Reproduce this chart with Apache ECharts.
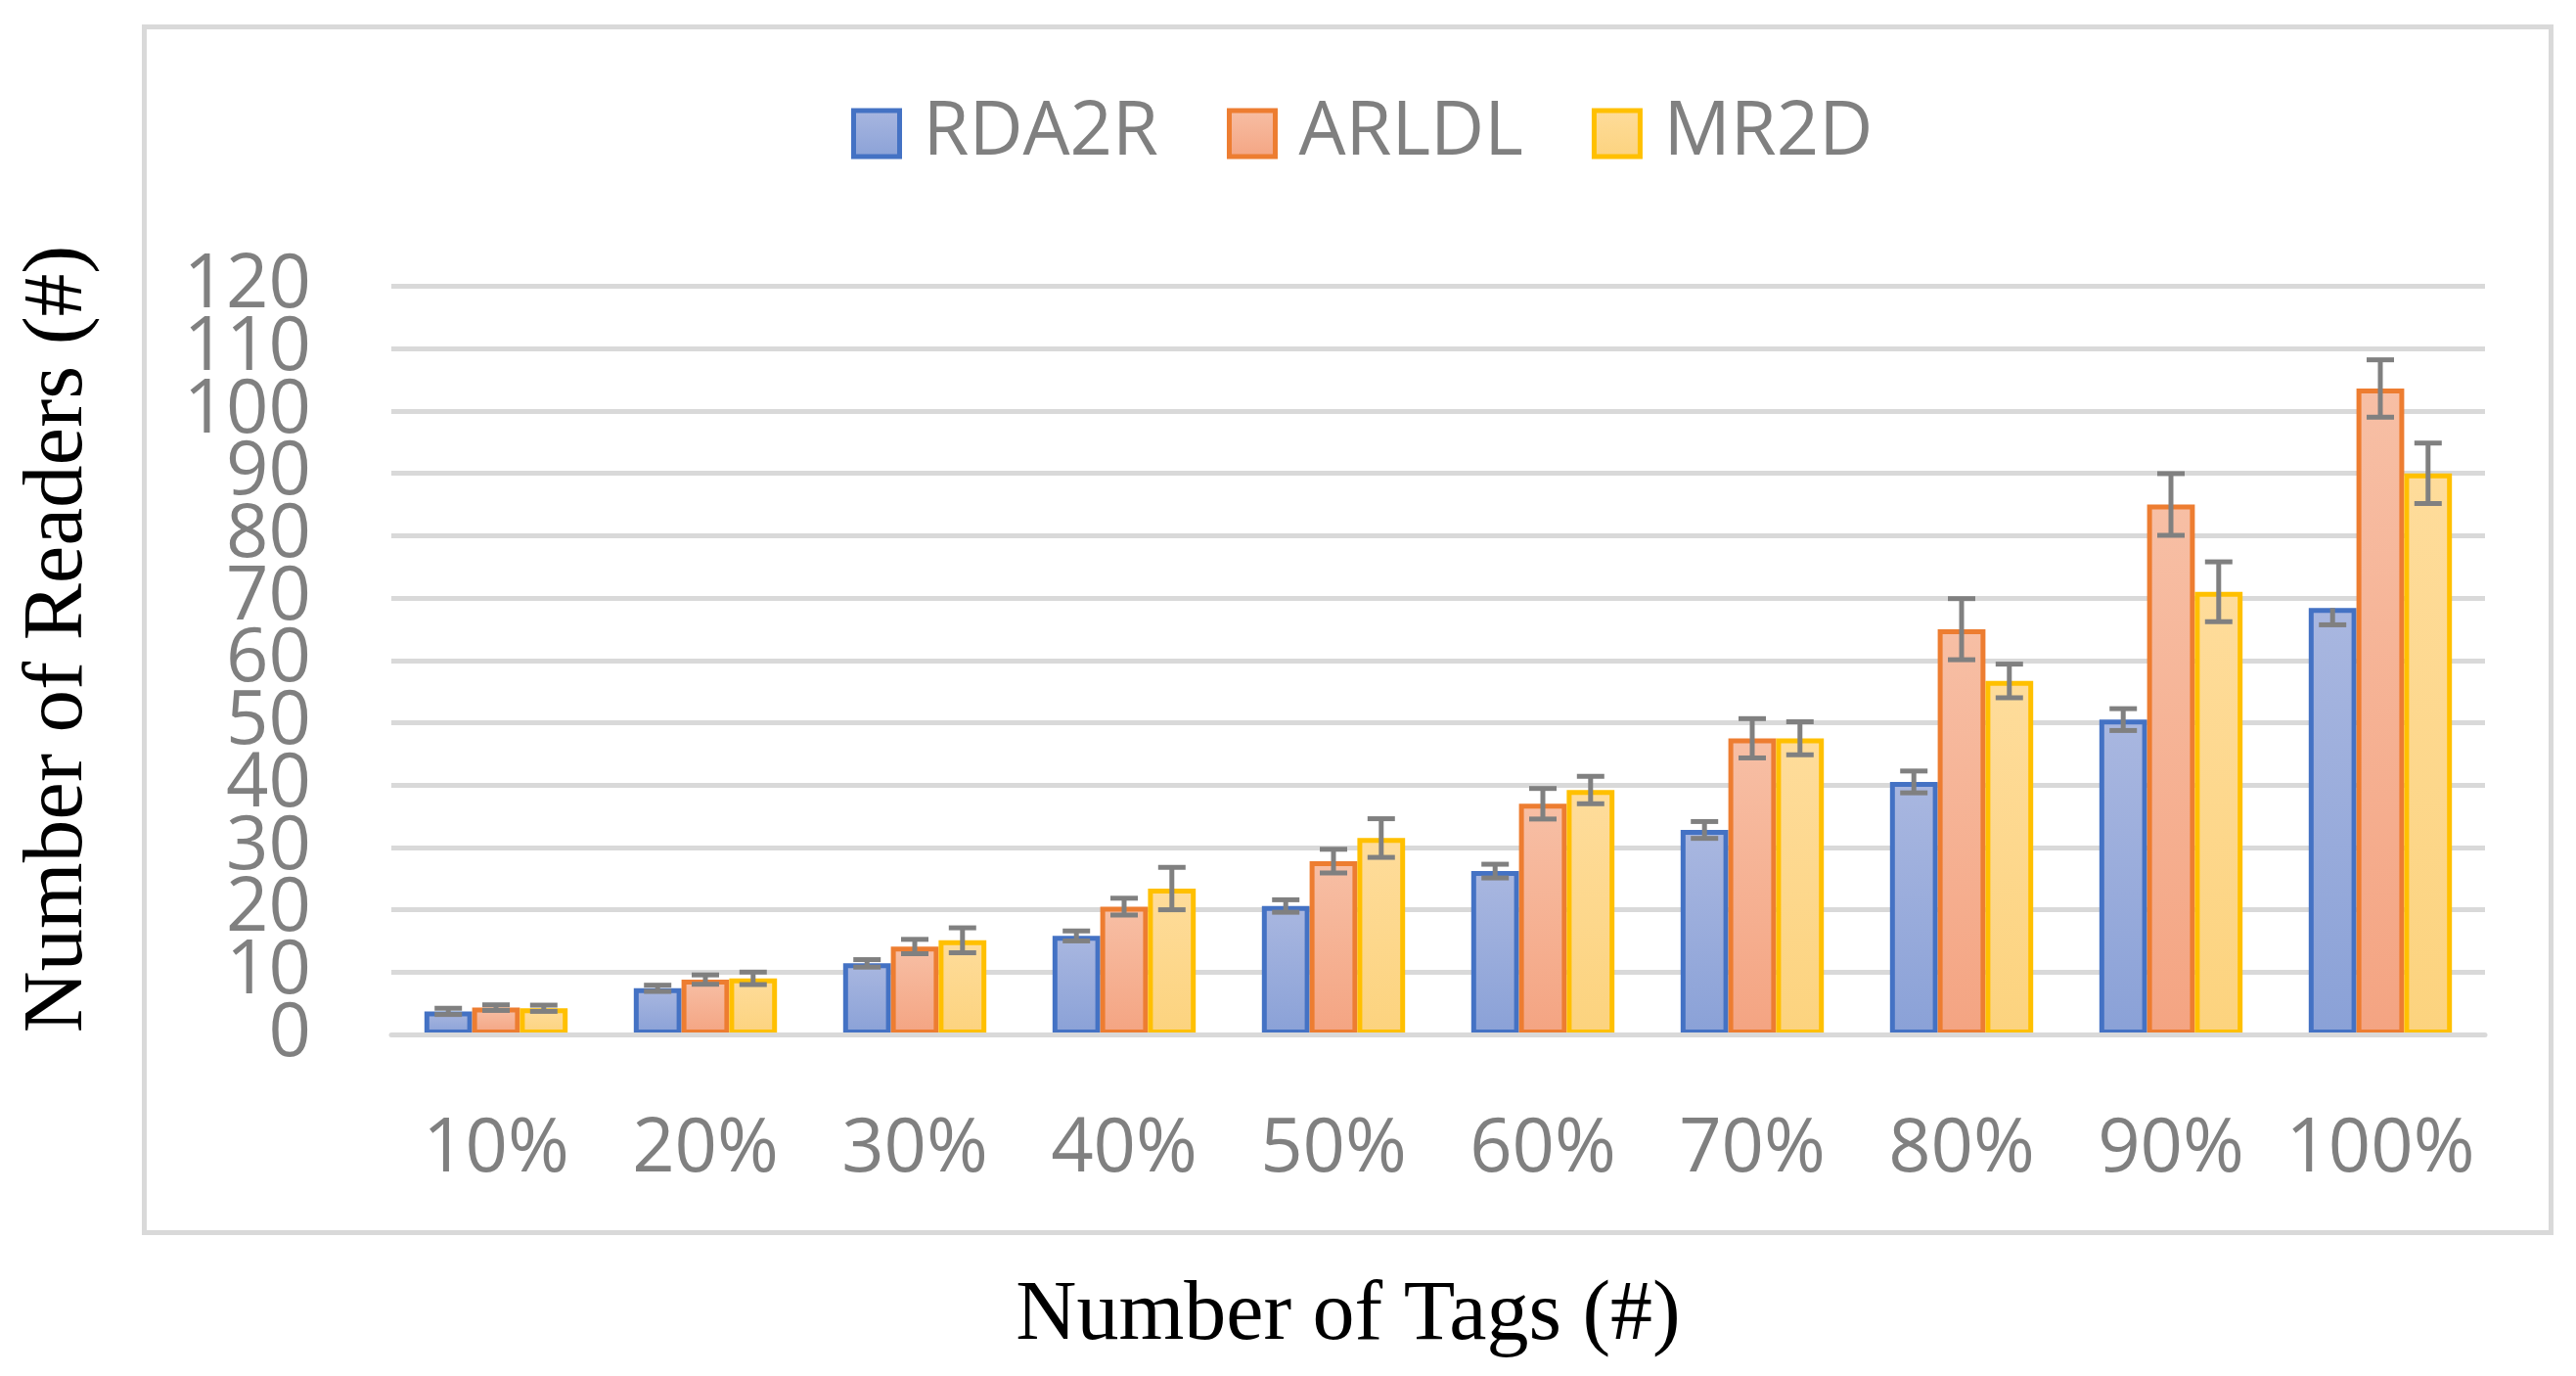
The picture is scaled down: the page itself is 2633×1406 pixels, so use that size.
<!DOCTYPE html>
<html>
<head>
<meta charset="utf-8">
<script src="https://cdn.jsdelivr.net/npm/echarts@6/dist/echarts.min.js"></script>
<style>
html,body{margin:0;padding:0;background:#fff;}
#chart{width:2633px;height:1406px;}
</style>
</head>
<body>
<div id="chart"></div>
<script>
// ---- data ----
const categories = ['10%', '20%', '30%', '40%', '50%', '60%', '70%', '80%', '90%', '100%'];
const seriesNames = ['RDA2R', 'ARLDL', 'MR2D'];
const rda2r = [3.7, 7.4, 11.4, 15.8, 20.6, 26.2, 32.8, 40.5, 50.5, 68.4];
const arldl = [4.3, 8.8, 14.1, 20.5, 27.8, 37.0, 47.5, 65.0, 85.0, 103.6];
const mr2d  = [4.2, 9.0, 15.1, 23.4, 31.5, 39.2, 47.5, 56.7, 71.0, 90.0];
const rda2rErrUp   = [0.5, 0.5, 0.6, 0.8, 1.0, 1.1, 1.35, 1.75, 1.75, 0];
const rda2rErrDown = [0.5, 0.5, 0.6, 0.8, 1.0, 1.1, 1.35, 1.75, 1.75, 2.7];
const arldlErr = [0.45, 0.75, 1.15, 1.35, 1.9, 2.45, 3.15, 4.9, 4.95, 4.6];
const mr2dErr  = [0.5, 1.0, 2.0, 3.4, 3.1, 2.2, 2.65, 2.7, 4.8, 4.85];
const yTicks = { min: 0, max: 120, interval: 10 };

// ---- styles ----
const borderColors = ['#4472C4', '#ED7D31', '#FFC000'];
const gradTop = ['#A9B7E0', '#F7BFA5', '#FEDC9B'];
const gradBottom = ['#8AA1D7', '#F4A482', '#FCD37E'];
const values = [rda2r, arldl, mr2d];
const errUp = [rda2rErrUp, arldlErr, mr2dErr];
const errDown = [rda2rErrDown, arldlErr, mr2dErr];
const CAT_GAP = 0.316;

const chart = echarts.init(document.getElementById('chart'));

const barSeries = seriesNames.map((name, k) => ({
  name: name,
  type: 'bar',
  xAxisIndex: 0,
  yAxisIndex: 0,
  data: values[k],
  barGap: '0%',
  barCategoryGap: (CAT_GAP * 100) + '%',
  itemStyle: {
    color: new echarts.graphic.LinearGradient(0, 0, 0, 1, [
      { offset: 0, color: gradTop[k] },
      { offset: 1, color: gradBottom[k] }
    ]),
    borderColor: borderColors[k],
    borderWidth: 5
  },
  emphasis: { disabled: true },
  z: 2
}));

const errSeries = seriesNames.map((name, k) => ({
  name: name + '_err',
  type: 'custom',
  coordinateSystem: 'cartesian2d',
  xAxisIndex: 0,
  yAxisIndex: 0,
  silent: true,
  z: 10,
  encode: { x: 0, y: 1 },
  data: values[k].map((v, i) => [i, v, errUp[k][i], errDown[k][i]]),
  renderItem: function (params, api) {
    const idx = api.value(0), v = api.value(1), up = api.value(2), dn = api.value(3);
    const band = api.size([1, 0])[0];
    const w = band * (1 - CAT_GAP) / 3;
    const p = api.coord([idx, v]);
    const cx = p[0] + (k - 1) * w;
    const yTop = api.coord([idx, v + up])[1];
    const yBot = api.coord([idx, v - dn])[1];
    const st = { stroke: '#808080', lineWidth: 5 };
    const half = 14;
    const children = [
      { type: 'line', shape: { x1: cx, y1: yTop, x2: cx, y2: yBot }, style: st }
    ];
    if (up > 0) children.push({ type: 'line', shape: { x1: cx - half, y1: yTop, x2: cx + half, y2: yTop }, style: st });
    if (dn > 0) children.push({ type: 'line', shape: { x1: cx - half, y1: yBot, x2: cx + half, y2: yBot }, style: st });
    return { type: 'group', children: children };
  }
}));

const yLabelStyle = {
  fontFamily: 'Open Sans',
  fontSize: 76,
  color: '#808080',
  margin: 82,
  hideOverlap: false
};
const gridRect = { left: 400, right: 93, top: 292.5, bottom: 349, containLabel: false };

const option = {
  backgroundColor: '#ffffff',
  animation: false,
  grid: [Object.assign({}, gridRect), Object.assign({}, gridRect)],
  legend: {
    data: seriesNames,
    left: 870,
    top: 98.5,
    padding: 0,
    itemWidth: 47,
    itemHeight: 47,
    itemGap: 70,
    icon: 'rect',
    itemStyle: { borderWidth: 5 },
    textStyle: {
      fontFamily: 'Open Sans',
      fontSize: 76,
      lineHeight: 76,
      color: '#808080',
      padding: [0, 0, 0, 19]
    }
  },
  xAxis: [{
    type: 'category',
    gridIndex: 0,
    data: categories,
    z: 5,
    axisLine: { show: true, lineStyle: { color: '#D9D9D9', width: 5 } },
    axisTick: { show: false },
    axisLabel: {
      interval: 0,
      hideOverlap: false,
      fontFamily: 'Open Sans',
      fontSize: 76,
      color: '#808080',
      margin: 80
    },
    splitLine: { show: false }
  }, {
    type: 'category',
    gridIndex: 1,
    data: categories,
    show: false
  }],
  yAxis: [{
    type: 'value',
    gridIndex: 0,
    min: yTicks.min,
    max: yTicks.max,
    interval: yTicks.interval,
    axisLine: { show: false },
    axisTick: { show: false },
    axisLabel: Object.assign({ showMinLabel: false, showMaxLabel: false }, yLabelStyle),
    splitLine: { show: true, lineStyle: { color: '#D9D9D9', width: 5 } }
  }, {
    // second axis on an identical grid: carries only the end labels (0 and 120)
    type: 'value',
    gridIndex: 1,
    min: yTicks.min,
    max: yTicks.max,
    interval: yTicks.interval,
    axisLine: { show: false },
    axisTick: { show: false },
    splitLine: { show: false },
    axisLabel: Object.assign({
      showMinLabel: true,
      showMaxLabel: true,
      formatter: function (v) { return (v === yTicks.min || v === yTicks.max) ? String(v) : ''; }
    }, yLabelStyle)
  }],
  graphic: [
    {
      type: 'rect',
      shape: { x: 147.5, y: 27.5, width: 2460, height: 1232 },
      style: { fill: 'none', stroke: '#D9D9D9', lineWidth: 5 },
      silent: true,
      z: -1
    },
    {
      type: 'text',
      x: 60, y: 653,
      rotation: Math.PI / 2,
      style: {
        text: 'Number of Readers (#)',
        font: '87px "Liberation Serif"',
        fill: '#000000',
        align: 'center',
        verticalAlign: 'middle'
      }
    },
    {
      type: 'text',
      x: 1378, y: 1345,
      style: {
        text: 'Number of Tags (#)',
        font: '86px "Liberation Serif"',
        fill: '#000000',
        align: 'center',
        verticalAlign: 'middle'
      }
    }
  ],
  series: barSeries.concat(errSeries)
};

chart.setOption(option);
</script>
</body>
</html>
